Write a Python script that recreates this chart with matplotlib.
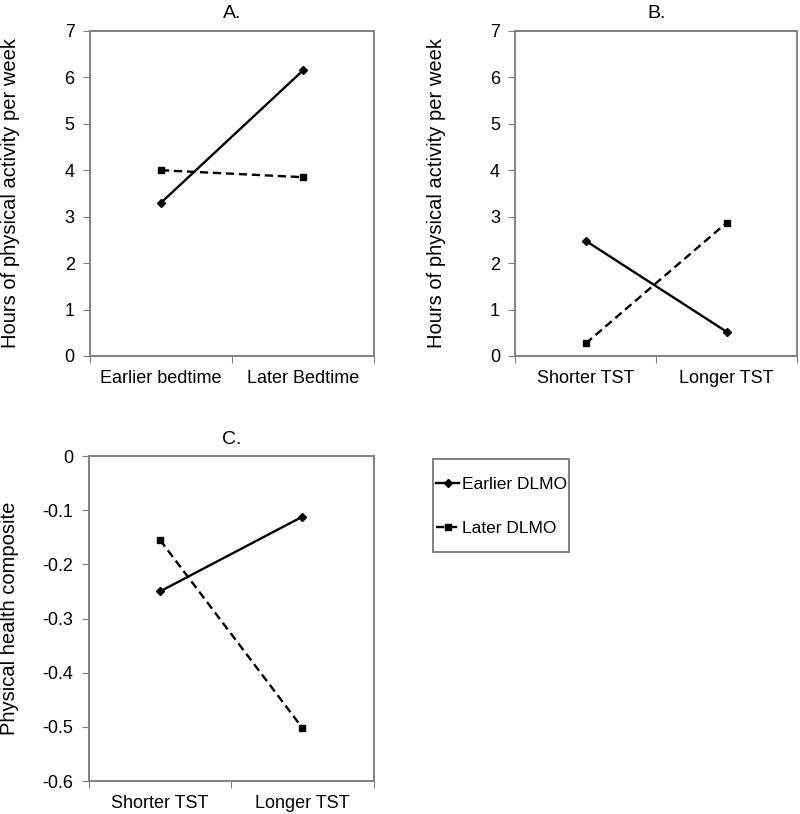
import matplotlib.pyplot as plt
import matplotlib.patches as mpatches
import numpy as np

plt.rcParams['font.family'] = ['Liberation Sans', 'DejaVu Sans']

# Panel data (two groups x two categories)
cats_a = ["Earlier bedtime", "Later Bedtime"]
cats_tst = ["Shorter TST", "Longer TST"]
series_names = ["Earlier DLMO", "Later DLMO"]

a_early = [3.3, 6.15]
a_late = [4.0, 3.85]
b_early = [2.48, 0.52]
b_late = [0.27, 2.87]
c_early = [-0.25, -0.112]
c_late = [-0.155, -0.502]

gray = "#808080"

fig = plt.figure(figsize=(8, 8.14), dpi=100)
ax_a = fig.add_axes([0.1125, 0.5627, 0.355, 0.3993])
ax_b = fig.add_axes([0.644, 0.5627, 0.3525, 0.3993])
ax_c = fig.add_axes([0.111, 0.0405, 0.356, 0.3993])


def draw(ax, cats, early, late, title, ylim, yticks, ylabel, yfmt):
    x = np.arange(len(cats)) + 0.5
    l1, = ax.plot(x, early, color="black", lw=1.7, marker="D", ms=4,
                  label=series_names[0])
    l2, = ax.plot(x, late, color="black", lw=1.7, ls=(0, (3.5, 2)),
                  marker="s", ms=4, label=series_names[1])
    ax.set_xlim(0, len(cats))
    ax.set_ylim(*ylim)
    ax.set_yticks(yticks)
    ax.set_yticklabels([yfmt(v) for v in yticks])
    ax.set_xticks(np.arange(len(cats) + 1))
    ax.set_xticklabels([])
    ax.set_xticks(x, minor=True)
    ax.set_xticklabels(cats, minor=True)
    ax.tick_params(axis="x", which="minor", length=0, pad=10, labelsize=13)
    ax.tick_params(axis="x", which="major", length=5, color=gray)
    ax.tick_params(axis="y", length=5, color=gray, labelsize=13, pad=6)
    for s in ax.spines.values():
        s.set_color(gray)
        s.set_linewidth(1.4)
    ax.set_title(title, fontsize=14, pad=9)
    ax.set_ylabel(ylabel, fontsize=14.5)
    ax.yaxis.set_label_coords(-0.245, 0.5)
    return l1, l2


hours = "Hours of physical activity per week"
intfmt = lambda v: f"{v:g}"
draw(ax_a, cats_a, a_early, a_late, "A.", (0, 7), range(8), hours, intfmt)
draw(ax_b, cats_tst, b_early, b_late, "B.", (0, 7), range(8), hours, intfmt)
handles = draw(ax_c, cats_tst, c_early, c_late, "C.", (-0.6, 0),
               np.round(np.arange(-0.6, 0.01, 0.1), 1),
               "Physical health composite",
               lambda v: "0" if v == 0 else f"{v:.1f}")

# legend box drawn separately (tight sides, tall rows as in the original)
fig.patches.append(mpatches.Rectangle((0.541, 0.3219), 0.17, 0.1143,
                                      transform=fig.transFigure, fill=False,
                                      edgecolor=gray, lw=1.4))
fig.legend(handles, series_names, loc="center left",
           bbox_to_anchor=(0.5455, 0.3780), fontsize=12.5, frameon=False,
           handlelength=1.3, handletextpad=0.2, labelspacing=1.65,
           borderpad=0, borderaxespad=0)

fig.savefig("out.png", dpi=100)
